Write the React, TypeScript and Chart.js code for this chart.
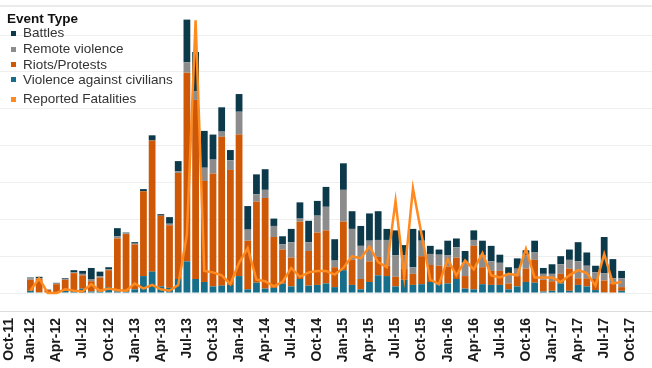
import React, { useEffect, useRef } from 'react';
import { Chart, registerables } from 'chart.js';

Chart.register(...registerables);

const MONTHS = [
  'Oct-11', 'Nov-11', 'Dec-11',
  'Jan-12', 'Feb-12', 'Mar-12', 'Apr-12', 'May-12', 'Jun-12', 'Jul-12', 'Aug-12', 'Sep-12', 'Oct-12', 'Nov-12', 'Dec-12',
  'Jan-13', 'Feb-13', 'Mar-13', 'Apr-13', 'May-13', 'Jun-13', 'Jul-13', 'Aug-13', 'Sep-13', 'Oct-13', 'Nov-13', 'Dec-13',
  'Jan-14', 'Feb-14', 'Mar-14', 'Apr-14', 'May-14', 'Jun-14', 'Jul-14', 'Aug-14', 'Sep-14', 'Oct-14', 'Nov-14', 'Dec-14',
  'Jan-15', 'Feb-15', 'Mar-15', 'Apr-15', 'May-15', 'Jun-15', 'Jul-15', 'Aug-15', 'Sep-15', 'Oct-15', 'Nov-15', 'Dec-15',
  'Jan-16', 'Feb-16', 'Mar-16', 'Apr-16', 'May-16', 'Jun-16', 'Jul-16', 'Aug-16', 'Sep-16', 'Oct-16', 'Nov-16', 'Dec-16',
  'Jan-17', 'Feb-17', 'Mar-17', 'Apr-17', 'May-17', 'Jun-17', 'Jul-17', 'Aug-17', 'Sep-17', 'Oct-17', 'Nov-17', 'Dec-17',
];

const TICK_LABELS = [
  'Oct-11', 'Jan-12', 'Apr-12', 'Jul-12', 'Oct-12', 'Jan-13', 'Apr-13', 'Jul-13', 'Oct-13',
  'Jan-14', 'Apr-14', 'Jul-14', 'Oct-14', 'Jan-15', 'Apr-15', 'Jul-15', 'Oct-15',
  'Jan-16', 'Apr-16', 'Jul-16', 'Oct-16', 'Jan-17', 'Apr-17', 'Jul-17', 'Oct-17',
];

// Monthly values Jan-12 .. Sep-17 (no data Oct-11..Dec-11 and Oct-17..Dec-17)
const CIVILIANS = [
  3, 1, 0, 1, 3, 4, 6, 2, 2, 8, 2, 2,
  5, 23, 29, 9, 7, 19, 43, 19, 15, 9, 10, 11,
  23, 5, 14, 6, 7, 13, 9, 19, 10, 11, 13, 8,
  31, 11, 5, 15, 24, 23, 9, 18, 11, 12, 15, 12,
  13, 19, 6, 5, 12, 11, 11, 5, 9, 15, 14, 2,
  3, 13, 3, 11, 9, 4, 1, 0, 3,
];
const RIOTS = [
  15, 18, 4, 11, 15, 23, 18, 14, 19, 23, 72, 78,
  61, 115, 178, 96, 85, 144, 256, 243, 137, 153, 202, 156,
  192, 66, 110, 123, 69, 46, 39, 78, 47, 71, 72, 27,
  66, 34, 14, 28, 25, 14, 13, 15, 15, 38, 23, 25,
  23, 29, 17, 59, 23, 19, 19, 8, 14, 18, 31, 16,
  13, 13, 30, 9, 11, 15, 16, 13, 5,
];
const REMOTE = [
  2, 1, 1, 2, 1, 1, 2, 3, 2, 1, 3, 1,
  1, 0, 0, 0, 2, 2, 14, 12, 18, 19, 7, 13,
  31, 15, 10, 11, 15, 7, 21, 4, 12, 23, 32, 9,
  43, 42, 45, 28, 23, 35, 29, 18, 9, 21, 15, 15,
  15, 14, 18, 8, 16, 13, 11, 13, 10, 18, 10, 8,
  10, 13, 12, 23, 17, 9, 10, 7, 12,
];
const BATTLES = [
  1, 2, 0, 0, 1, 3, 4, 15, 6, 3, 11, 1,
  2, 3, 7, 2, 9, 14, 58, 53, 50, 34, 33, 14,
  24, 32, 27, 28, 10, 11, 18, 22, 29, 20, 27, 29,
  36, 24, 27, 37, 39, 15, 34, 14, 52, 14, 11, 7,
  20, 12, 16, 13, 20, 21, 11, 9, 14, 7, 16, 8,
  13, 11, 14, 26, 18, 9, 49, 26, 10,
];
const FATALITIES = [
  3, 20, 0, 0, 5, 3, 2, 12, 3, 6, 4, 3,
  13, 6, 11, 5, 3, 11, 79, 370, 30, 28, 24, 12,
  41, 61, 18, 16, 9, 15, 34, 22, 28, 30, 30, 25,
  34, 50, 47, 63, 42, 35, 125, 22, 142, 79, 18, 12,
  46, 24, 44, 32, 54, 24, 21, 26, 24, 60, 21, 21,
  21, 15, 24, 31, 27, 10, 53, 13, 15,
];

const GRID_VALUES = [0, 50, 100, 150, 200, 250, 300, 350];

const COLORS = {
  battles: '#0d3a4a',
  remote: '#8c8c8c',
  riots: '#cf5806',
  civilians: '#176e8a',
  fatalities: '#ff8a1f',
};

const FONT = "'Liberation Sans', Arial, sans-serif";
const TICK_FONT = `bold 14px ${FONT}`;
const TICK_COLOR = '#1a1a1a';

const LEGEND = [
  { label: 'Battles', color: COLORS.battles, baseline: 37.3 },
  { label: 'Remote violence', color: COLORS.remote, baseline: 53.3 },
  { label: 'Riots/Protests', color: COLORS.riots, baseline: 68.7 },
  { label: 'Violence against civilians', color: COLORS.civilians, baseline: 84 },
  { label: 'Reported Fatalities', color: COLORS.fatalities, baseline: 103.3 },
];

const pad = (a: number[]) => [null, null, null, ...a, null, null, null];

const topLine = {
  id: 'topLine',
  beforeDatasetsDraw(chart: any) {
    const { ctx } = chart;
    ctx.save();
    ctx.fillStyle = '#ebebeb';
    ctx.fillRect(0, 5, chart.width, 2);
    ctx.restore();
  },
};

// The first tick label sits at the very edge; it is nudged inward so it stays fully visible.
const firstLabel = {
  id: 'firstLabel',
  afterDraw(chart: any) {
    const { ctx, chartArea } = chart;
    ctx.save();
    ctx.translate(9, chartArea.bottom + 7);
    ctx.rotate(-Math.PI / 2);
    ctx.font = TICK_FONT;
    ctx.fillStyle = TICK_COLOR;
    ctx.textAlign = 'right';
    ctx.textBaseline = 'middle';
    ctx.fillText(MONTHS[0], 0, 0);
    ctx.restore();
  },
};

export default function App() {
  const ref = useRef<HTMLCanvasElement>(null);

  useEffect(() => {
    const barCommon = { stack: 'events', order: 1, categoryPercentage: 1, barPercentage: 0.78, borderWidth: 0 };
    const chart = new Chart(ref.current as HTMLCanvasElement, {
      type: 'bar',
      data: {
        labels: MONTHS,
        datasets: [
          { ...barCommon, label: 'Violence against civilians', data: pad(CIVILIANS), backgroundColor: COLORS.civilians },
          { ...barCommon, label: 'Riots/Protests', data: pad(RIOTS), backgroundColor: COLORS.riots },
          { ...barCommon, label: 'Remote violence', data: pad(REMOTE), backgroundColor: COLORS.remote },
          { ...barCommon, label: 'Battles', data: pad(BATTLES), backgroundColor: COLORS.battles },
          {
            type: 'line',
            label: 'Reported Fatalities',
            data: pad(FATALITIES),
            stack: 'fatalities',
            order: 0,
            borderColor: COLORS.fatalities,
            borderWidth: 2.5,
            pointRadius: 0,
            tension: 0,
            fill: false,
          } as any,
        ],
      },
      options: {
        animation: false,
        responsive: false,
        maintainAspectRatio: false,
        devicePixelRatio: 1,
        layout: { padding: 0 },
        plugins: { legend: { display: false }, tooltip: { enabled: false } },
        scales: {
          x: {
            stacked: true,
            grid: { display: false, drawTicks: true, tickLength: 3 },
            border: { display: true, color: '#dcdcdc', width: 1 },
            afterFit: (s: any) => { s.height = 57; },
            ticks: {
              autoSkip: false,
              maxRotation: 90,
              minRotation: 90,
              padding: 4,
              color: TICK_COLOR,
              font: { family: FONT, size: 14, weight: 'bold' },
              callback: (_v: any, i: number) =>
                i > 0 && TICK_LABELS.includes(MONTHS[i]) ? MONTHS[i] : null,
            },
          },
          y: {
            stacked: true,
            min: -24.4,
            max: 397.6,
            afterFit: (s: any) => { s.width = 0; },
            afterBuildTicks: (s: any) => { s.ticks = GRID_VALUES.map((v) => ({ value: v })); },
            grid: { color: '#efefef', lineWidth: 1, drawTicks: false },
            border: { display: false },
            ticks: { display: false },
          },
        },
      },
      plugins: [topLine, firstLabel],
    } as any);
    return () => chart.destroy();
  }, []);

  return (
    <div style={{ position: 'absolute', left: 0, top: 0, width: 652, height: 368, background: '#fff', overflow: 'hidden' }}>
      <canvas ref={ref} width={652} height={368} style={{ display: 'block', width: 652, height: 368 }} />
      <div
        style={{
          position: 'absolute', left: 7, top: 24 - 12.7, fontFamily: FONT, fontSize: 13.5,
          fontWeight: 'bold', lineHeight: '16px', color: '#111', whiteSpace: 'nowrap',
        }}
      >
        Event Type
      </div>
      {LEGEND.map((it) => (
        <React.Fragment key={it.label}>
          <div style={{ position: 'absolute', left: 11, top: it.baseline - 6.6, width: 5, height: 5, background: it.color }} />
          <div
            style={{
              position: 'absolute', left: 23, top: it.baseline - 12.2, fontFamily: FONT, fontSize: 13.5,
              lineHeight: '15px', color: '#333', whiteSpace: 'nowrap',
            }}
          >
            {it.label}
          </div>
        </React.Fragment>
      ))}
    </div>
  );
}
